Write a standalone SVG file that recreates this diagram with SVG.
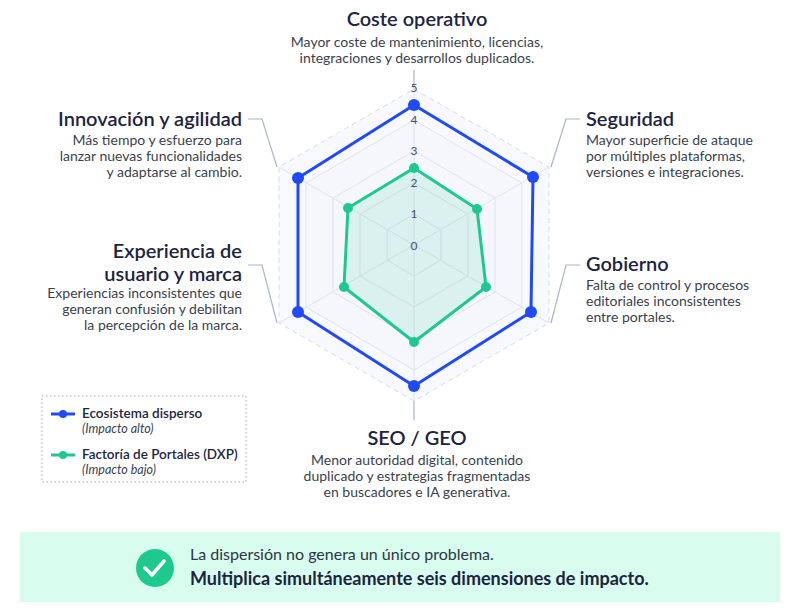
<svg xmlns="http://www.w3.org/2000/svg" width="800" height="615" viewBox="0 0 800 615">
<style>
text{font-family:"Lato","Liberation Sans",sans-serif;fill:#1c2440}
.h{font-size:20px;font-weight:600}
.d{font-size:14px;fill:#3a3f50}
.tick{font-size:12px;fill:#4a5068;text-anchor:middle}
.ring{fill:none;stroke:#dde3f0;stroke-width:1}
.lead{fill:none;stroke:#aab4c8;stroke-width:1.2}
</style>
<rect width="800" height="615" fill="#fff"/>
<g id="grid">
<polygon points="414,89 549,167 549,323 414,401 279,323 279,167" fill="#f8f9fe" stroke="#d6dbe6" stroke-dasharray="5,4"/>
<polygon points="414,120 522,183 522,307 414,370 306,307 306,183" class="ring" style="fill:#f5f7fd"/>
<polygon points="414,151 495,198 495,292 414,339 333,292 333,198" class="ring"/>
<polygon points="414,183 468,214 468,276 414,307 360,276 360,214" class="ring"/>
<polygon points="414,214 441,230 441,260 414,276 387,260 387,230" class="ring"/>
<path d="M414,245L414,89M414,245L549,167M414,245L549,323M414,245L414,401M414,245L279,323M414,245L279,167" stroke="#dde3f0"/>
</g>
<g id="connectors">
<path class="lead" d="M414,70V89M414,401V420M551,167L566,119H580M551,323L566,265H580M277,167L262,119H248M277,323L262,265H248"/>
</g>
<g id="series-green">
<polygon points="414,168 477,209 486,287 414,342 344,287 348,208" fill="#22c98f" fill-opacity="0.12" stroke="#1ec98f" stroke-width="3" stroke-linejoin="round"/>
<g fill="#1ec98f"><circle cx="414" cy="168" r="5"/><circle cx="477" cy="209" r="5"/><circle cx="486" cy="287" r="5"/><circle cx="414" cy="342" r="5"/><circle cx="344" cy="287" r="5"/><circle cx="348" cy="208" r="5"/></g>
</g>
<g id="series-blue">
<polygon points="414,105 533,177 531,312 414,386 298,312 298,178" fill="none" stroke="#1f4af5" stroke-width="3" stroke-linejoin="round"/>
<g fill="#1f4af5"><circle cx="414" cy="105" r="6"/><circle cx="533" cy="177" r="6"/><circle cx="531" cy="312" r="6"/><circle cx="414" cy="386" r="6"/><circle cx="298" cy="312" r="6"/><circle cx="298" cy="178" r="6"/></g>
</g>
<g id="ticks">
<text class="tick" x="414" y="250">0</text><text class="tick" x="414" y="218">1</text><text class="tick" x="414" y="187">2</text><text class="tick" x="414" y="155">3</text><text class="tick" x="414" y="124">4</text><text class="tick" x="414" y="92">5</text>
</g>
<g id="node-coste">
<text class="h" x="417" y="26" text-anchor="middle">Coste operativo</text>
<text class="d" x="417" y="47" text-anchor="middle">Mayor coste de mantenimiento, licencias,</text>
<text class="d" x="417" y="63" text-anchor="middle">integraciones y desarrollos duplicados.</text>
</g>
<g id="node-seguridad">
<text class="h" x="586" y="126">Seguridad</text>
<text class="d" x="586" y="145">Mayor superficie de ataque</text>
<text class="d" x="586" y="161">por múltiples plataformas,</text>
<text class="d" x="586" y="177">versiones e integraciones.</text>
</g>
<g id="node-gobierno">
<text class="h" x="586" y="271">Gobierno</text>
<text class="d" x="586" y="290">Falta de control y procesos</text>
<text class="d" x="586" y="306">editoriales inconsistentes</text>
<text class="d" x="586" y="322">entre portales.</text>
</g>
<g id="node-seo">
<text class="h" x="417" y="445" text-anchor="middle">SEO / GEO</text>
<text class="d" x="417" y="465" text-anchor="middle">Menor autoridad digital, contenido</text>
<text class="d" x="417" y="481" text-anchor="middle">duplicado y estrategias fragmentadas</text>
<text class="d" x="417" y="497" text-anchor="middle">en buscadores e IA generativa.</text>
</g>
<g id="node-experiencia">
<text class="h" x="242" y="258" text-anchor="end">Experiencia de</text>
<text class="h" x="242" y="281" text-anchor="end">usuario y marca</text>
<text class="d" x="242" y="298" text-anchor="end">Experiencias inconsistentes que</text>
<text class="d" x="242" y="314" text-anchor="end">generan confusión y debilitan</text>
<text class="d" x="242" y="330" text-anchor="end">la percepción de la marca.</text>
</g>
<g id="node-innovacion">
<text class="h" x="242" y="126" text-anchor="end">Innovación y agilidad</text>
<text class="d" x="242" y="145" text-anchor="end">Más tiempo y esfuerzo para</text>
<text class="d" x="242" y="161" text-anchor="end">lanzar nuevas funcionalidades</text>
<text class="d" x="242" y="177" text-anchor="end">y adaptarse al cambio.</text>
</g>
<g id="legend">
<rect x="42" y="396" width="204" height="86" fill="#fff" stroke="#a0a6b8" stroke-dasharray="1.5,2.5"/>
<line x1="51" y1="414" x2="75" y2="414" stroke="#1f4af5" stroke-width="3"/><circle cx="63" cy="414" r="4" fill="#1f4af5"/>
<text x="82" y="418" style="font-size:13.5px;font-weight:600">Ecosistema disperso</text>
<text x="82" y="433" style="font-size:12.5px;font-style:italic;fill:#3a3f50">(Impacto alto)</text>
<line x1="51" y1="455" x2="75" y2="455" stroke="#1ec98f" stroke-width="3"/><circle cx="63" cy="455" r="4" fill="#1ec98f"/>
<text x="82" y="459" style="font-size:13.5px;font-weight:600">Factoría de Portales (DXP)</text>
<text x="82" y="474" style="font-size:12.5px;font-style:italic;fill:#3a3f50">(Impacto bajo)</text>
</g>
<g id="banner">
<rect x="20" y="532" width="760" height="70" fill="#d8fcee"/>
<circle cx="155" cy="568" r="19" fill="#1ec98f"/>
<path d="M145,568l7,7l12,-14" fill="none" stroke="#fff" stroke-width="3.5" stroke-linecap="round" stroke-linejoin="round"/>
<text x="190" y="560" style="font-size:16px;fill:#2e3446">La dispersión no genera un único problema.</text>
<text x="190" y="585" style="font-size:18px;font-weight:700">Multiplica simultáneamente seis dimensiones de impacto.</text>
</g>
</svg>
